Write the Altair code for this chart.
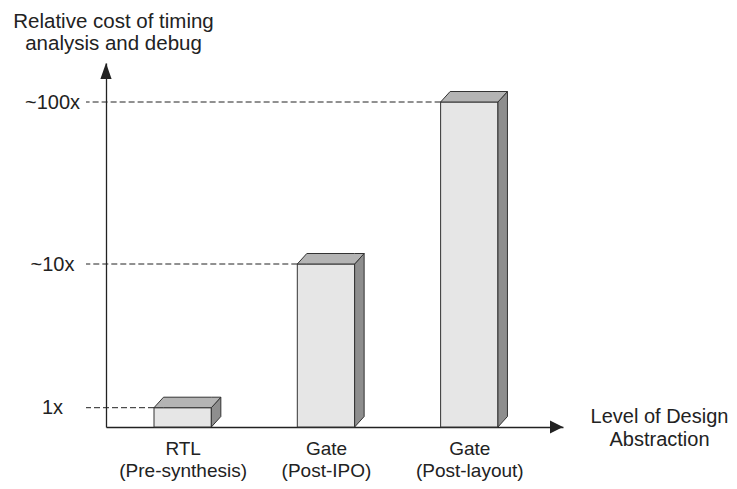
import altair as alt
import pandas as pd
import numpy as np

# ---- data ----
stages = ["RTL", "Gate", "Gate"]
stage_notes = ["(Pre-synthesis)", "(Post-IPO)", "(Post-layout)"]
positions = [1, 2, 3]
costs = [1, 10, 100]
cost_labels = ["1x", "~10x", "~100x"]

# ---- layout constants (schematic, non-proportional cost axis) ----
W, H = 457, 364
X_DOMAIN = [0.465, 3.654]
Y_DOMAIN = [0, 1, 10, 100, 121.7]
Y_RANGE = [364, 344.7, 201, 39, 0]
HALF = 0.2                     # half bar width (x units)
PX_PER_X = W / (X_DOMAIN[1] - X_DOMAIN[0])
DX = 9.5 / PX_PER_X            # depth in x
DY = 10.5                      # depth in pixels (y)

FONT = "Liberation Sans"
INK = "#222222"


def y_px(v):
    return float(np.interp(v, Y_DOMAIN, Y_RANGE))


def y_val(p):
    return float(np.interp(p, Y_RANGE[::-1], Y_DOMAIN[::-1]))


front_rows, dash_rows = [], []
top_frames, side_frames = [], []
for i, (p, c) in enumerate(zip(positions, costs)):
    L, R = p - HALF, p + HALF
    T = c
    Tu = y_val(y_px(T) - DY)
    Bu = y_val(y_px(0) - DY)
    front_rows.append({"x": L, "x2": R, "y": T, "y2": 0})
    dash_rows.append({"x": L, "y": T})
    top_frames.append(pd.DataFrame({
        "x": [L, L + DX, R, R + DX],
        "y": [T, Tu, Tu, Tu],
        "y2": [T, T, T, Tu],
    }))
    side_frames.append(pd.DataFrame({
        "x": [R, R + DX],
        "y": [T, Tu],
        "y2": [0, Bu],
    }))

front = pd.DataFrame(front_rows)
dash = pd.DataFrame(dash_rows)
arrow_y = pd.DataFrame({"x": [X_DOMAIN[0]], "y": [Y_DOMAIN[-1]]})
arrow_x = pd.DataFrame({"x": [X_DOMAIN[1]], "y": [Y_DOMAIN[0]]})

x_label_expr = " : ".join(
    f"datum.value == {p} ? ['{s}', '{n}']" for p, s, n in zip(positions, stages, stage_notes)
) + " : ''"
y_label_expr = " : ".join(
    f"datum.value == {c} ? '{l}'" for c, l in zip(costs, cost_labels)
) + " : ''"

x_scale = alt.Scale(domain=X_DOMAIN, nice=False, zero=False)
y_scale = alt.Scale(domain=Y_DOMAIN, range=Y_RANGE, nice=False, zero=False)

x_axis = alt.Axis(
    values=positions, labelExpr=x_label_expr, grid=False, ticks=False, tickSize=0,
    labelPadding=27, labelBaseline="alphabetic", labelLineHeight=22, labelFontSize=19,
    labelFont=FONT, labelColor=INK, domainColor=INK, domainWidth=1.3,
    title=["Level of Design", "Abstraction"], titleFont=FONT, titleFontSize=20,
    titleFontWeight="normal", titleColor=INK, titleAlign="center",
    titleBaseline="alphabetic", titleX=553, titleY=-5, titleLineHeight=23,
    labelOverlap=False, labelFlush=False,
)
y_axis = alt.Axis(
    values=costs, labelExpr=y_label_expr, grid=False, ticks=False, tickSize=0,
    labelPadding=54, labelAlign="center", labelBaseline="middle", labelFontSize=20,
    labelFont=FONT, labelColor=INK, domainColor=INK, domainWidth=1.3,
    title=["Relative cost of timing", "analysis and debug"], titleFont=FONT,
    titleFontSize=20.5, titleFontWeight="normal", titleColor=INK, titleAngle=0,
    titleAlign="center", titleBaseline="alphabetic", titleX=7, titleY=-36,
    titleLineHeight=22, labelOverlap=False, labelFlush=False,
)

X = alt.X("x:Q", scale=x_scale, axis=x_axis)
Y = alt.Y("y:Q", scale=y_scale, axis=y_axis)

layers = []
layers.append(alt.Chart(dash).mark_rule(
    color="#222222", strokeWidth=1, strokeDash=[6, 3]
).encode(x=X, x2=alt.value(-20), y=Y))

layers.append(alt.Chart(front).mark_rect(
    fill="#e6e6e6", stroke="#333333", strokeWidth=1
).encode(x=X, x2="x2:Q", y=Y, y2="y2:Q"))

for sf in side_frames:
    layers.append(alt.Chart(sf).mark_area(
        fill="#8e8e8e", stroke="#333333", strokeWidth=1, opacity=1,
        fillOpacity=1, interpolate="linear", orient="vertical"
    ).encode(x=X, y=Y, y2="y2:Q"))

for tf in top_frames:
    layers.append(alt.Chart(tf).mark_area(
        fill="#b4b4b4", stroke="#333333", strokeWidth=1, opacity=1,
        fillOpacity=1, interpolate="linear", orient="vertical"
    ).encode(x=X, y=Y, y2="y2:Q"))

layers.append(alt.Chart(arrow_y).mark_point(
    shape="M0,0L0.7,2L-0.7,2Z", size=256, filled=True, color=INK, opacity=1
).encode(x=X, y=Y))

layers.append(alt.Chart(arrow_x).mark_point(
    shape="M0,0L-2,-1L-2,1Z", size=169, filled=True, color=INK, opacity=1
).encode(x=X, y=Y))

chart = alt.layer(*layers).properties(
    width=W, height=H,
    autosize=alt.AutoSizeParams(type="none"),
    padding={"left": 98, "top": 55, "right": 166, "bottom": 54},
    background="white",
).configure(font=FONT).configure_view(stroke=None)

chart.save("out.html", embed_options={"renderer": "svg", "actions": False})
